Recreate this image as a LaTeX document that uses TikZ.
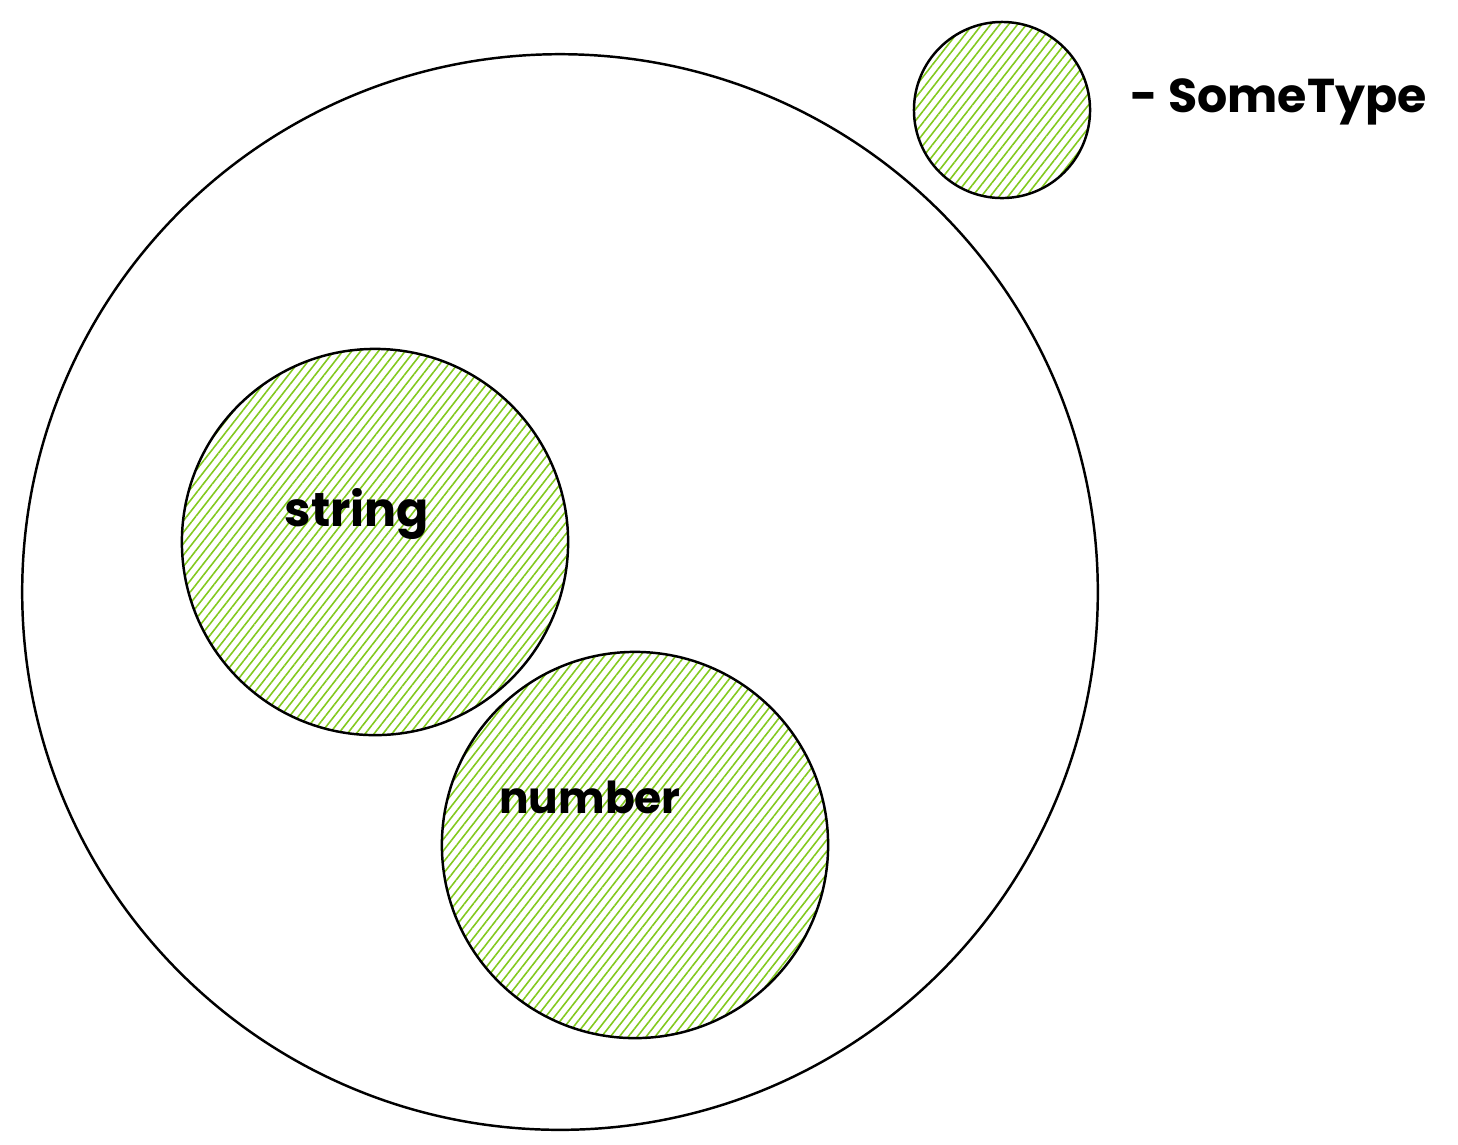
\documentclass[tikz,border=0pt]{standalone}
\usepackage{fontspec}
\setmainfont{Poppins}
\usetikzlibrary{shapes,positioning,patterns.meta}

\definecolor{hatchgreen}{HTML}{82C91E}
\tikzset{
    settype/.style={circle, draw=black, line width=0.7pt, inner sep=0pt},
    hatched/.style={settype, pattern={Lines[angle=52, distance=2pt, line width=0.45pt]}, pattern color=hatchgreen},
    typename/.style={font=\fontsize{13.5}{16}\selectfont\bfseries, text=black}
}

\begin{document}
\begin{tikzpicture}[x=0.01cm, y=-0.01cm]
    \useasboundingbox (0,0) rectangle (1458,1144);

    % outer set
    \node[settype, minimum size=10.75cm] (universe) at (560,592) {};

    % members
    \node[hatched, minimum size=3.86cm] (stringset) at (375,542) {};
    \node[hatched, minimum size=3.86cm] (numberset) at (635,845) {};
    \node[typename] (stringlabel) at (357,514) {string};
    \node[typename, font=\fontsize{12.5}{15}\selectfont\bfseries] (numberlabel) at (590,797) {number};

    % legend
    \node[hatched, minimum size=1.76cm] (legend) at (1002,110) {};
    \node[typename, anchor=west] (legendlabel) at (1118,102) {- SomeType};
\end{tikzpicture}
\end{document}
